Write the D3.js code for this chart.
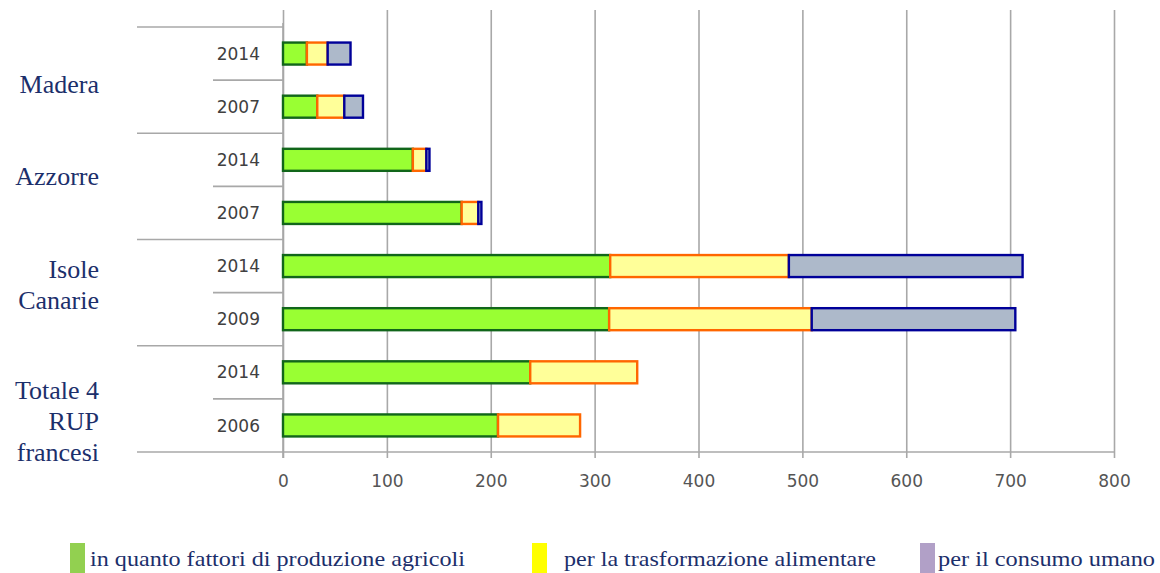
<!DOCTYPE html>
<html>
<head>
<meta charset="utf-8">
<script src="https://cdn.jsdelivr.net/npm/d3@7"></script>
<style>
  html, body { margin: 0; padding: 0; background: #fff; }
  svg { display: block; }
  .serif { font-family: 'Liberation Serif', 'Times New Roman', Times, serif; }
  .sans { font-family: 'DejaVu Sans', Verdana, sans-serif; }
</style>
</head>
<body>
<svg id="chart" width="1160" height="573"></svg>
<script>
// rows, top to bottom
const years = ['2014', '2007', '2014', '2007', '2014', '2009', '2014', '2006'];
const groups = [['Madera'], ['Azzorre'], ['Isole', 'Canarie'], ['Totale 4', 'RUP', 'francesi']];
// three stacked parts of each bar
const agricoli = [23, 33, 125, 172, 315, 314, 238, 207];
const trasformazione = [20, 26, 13, 16, 172, 195, 103, 79];
const consumo = [22, 18, 3, 3, 225, 196, 0, 0];
const ticks = [0, 100, 200, 300, 400, 500, 600, 700, 800];
const legendLabels = ['in quanto fattori di produzione agricoli', 'per la trasformazione alimentare', 'per il consumo umano'];

(function () {
  const svg = d3.select('#chart');
  const plotTop = 27, plotBottom = 452, plotLeft = 283, plotRight = 1114;
  const gridColor = '#a8a8a8';

  const x = d3.scaleLinear().domain([0, 800]).range([plotLeft, plotRight]);
  const y = d3.scaleBand().domain(d3.range(years.length)).range([plotTop, plotBottom]).padding(0);
  const barH = 22;

  // grid
  svg.append('g')
    .attr('transform', `translate(0,${plotBottom})`)
    .call(d3.axisBottom(x).tickValues(ticks).tickSize(-(plotBottom - 10)).tickFormat(''))
    .call(g => g.select('.domain').remove())
    .call(g => g.selectAll('line').attr('stroke', gridColor).attr('stroke-width', 1.6));

  // x axis ticks + labels
  svg.append('g')
    .attr('transform', `translate(0,${plotBottom})`)
    .call(d3.axisBottom(x).tickValues(ticks).tickSize(6).tickPadding(17).tickFormat(d3.format('d')))
    .call(g => g.select('.domain').remove())
    .call(g => g.selectAll('line').attr('stroke', gridColor).attr('stroke-width', 1.6))
    .call(g => g.selectAll('text')
      .attr('class', 'sans')
      .attr('font-family', null)
      .attr('font-size', 17)
      .attr('fill', '#555'));

  // bottom line, runs under the category column too
  svg.append('line')
    .attr('x1', 137).attr('x2', plotRight)
    .attr('y1', plotBottom).attr('y2', plotBottom)
    .attr('stroke', gridColor).attr('stroke-width', 1.6);

  // vertical category axis
  svg.append('line')
    .attr('x1', plotLeft).attr('x2', plotLeft)
    .attr('y1', 23).attr('y2', plotBottom + 6)
    .attr('stroke', gridColor).attr('stroke-width', 1.6);

  // separators: long between groups, short between years
  d3.range(years.length).forEach(i => {
    const yy = y(i);
    const long = i % 2 === 0;
    svg.append('line')
      .attr('x1', long ? 137 : 213).attr('x2', plotLeft)
      .attr('y1', yy).attr('y2', yy)
      .attr('stroke', gridColor).attr('stroke-width', 1.6);
  });

  // year labels
  svg.append('g').selectAll('text')
    .data(years)
    .join('text')
    .attr('class', 'sans')
    .attr('x', 260)
    .attr('y', (d, i) => y(i) + y.bandwidth() / 2)
    .attr('dy', '0.36em')
    .attr('text-anchor', 'end')
    .attr('font-size', 17)
    .attr('fill', '#404040')
    .text(d => d);

  // group labels
  const firstBaseline = [66, 52, 38, 53];
  groups.forEach((lines, gi) => {
    const t = svg.append('text')
      .attr('class', 'serif')
      .attr('text-anchor', 'end')
      .attr('font-size', 26)
      .attr('fill', '#1c2f6b');
    lines.forEach((ln, li) => {
      t.append('tspan')
        .attr('x', 99)
        .attr('y', y(gi * 2) + firstBaseline[gi] + li * 31)
        .text(ln);
    });
  });

  // stacked bars
  const series = [
    { vals: agricoli, fill: '#99ff33', stroke: '#11661a' },
    { vals: trasformazione, fill: '#ffff99', stroke: '#ff6600' },
    { vals: consumo, fill: '#adb9ca', stroke: '#000099' }
  ];
  const rows = years.map((yr, i) => {
    let acc = 0;
    return series.map(s => {
      const seg = { i, x0: acc, x1: acc + s.vals[i], fill: s.fill, stroke: s.stroke };
      acc += s.vals[i];
      return seg;
    });
  });
  svg.append('g').selectAll('rect')
    .data(rows.flat().filter(d => d.x1 > d.x0))
    .join('rect')
    .attr('x', d => x(d.x0))
    .attr('y', d => y(d.i) + (y.bandwidth() - barH) / 2)
    .attr('width', d => x(d.x1) - x(d.x0))
    .attr('height', barH)
    .attr('fill', d => d.fill)
    .attr('stroke', d => d.stroke)
    .attr('stroke-width', 2.4);

  // legend
  const legendColors = ['#92d050', '#ffff00', '#b1a0c7'];
  const legendX = [70, 532, 920];
  const legendTextX = [90, 564, 938];
  const legendW = [375, 312, 217];
  const lg = svg.append('g');
  legendLabels.forEach((lab, i) => {
    lg.append('rect')
      .attr('x', legendX[i]).attr('y', 543)
      .attr('width', 15).attr('height', 30)
      .attr('fill', legendColors[i]);
    lg.append('text')
      .attr('class', 'serif')
      .attr('x', legendTextX[i]).attr('y', 566)
      .attr('font-size', 21)
      .attr('fill', '#1c2f6b')
      .attr('textLength', legendW[i])
      .attr('lengthAdjust', 'spacingAndGlyphs')
      .text(lab);
  });
})();
</script>
</body>
</html>
